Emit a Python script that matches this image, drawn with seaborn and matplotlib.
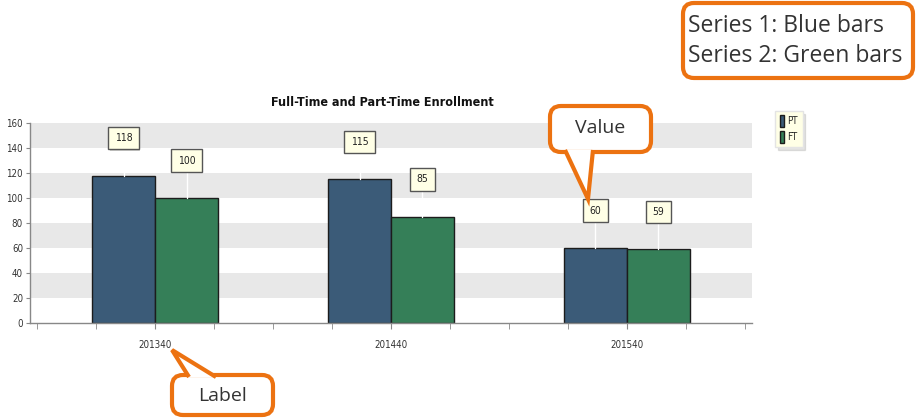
import matplotlib
matplotlib.use('Agg')
import matplotlib.pyplot as plt
import matplotlib.patheffects as pe
import seaborn as sns
import pandas as pd
from matplotlib.patches import FancyBboxPatch, Polygon
from matplotlib.transforms import Affine2D

terms = ['201340', '201440', '201540']
pt_counts = [118, 115, 60]
ft_counts = [100, 85, 59]
series = ['PT', 'FT']
colors = ['#3b5b78', '#357f58']

df = pd.DataFrame({'term': terms * 2,
                   'series': ['PT'] * 3 + ['FT'] * 3,
                   'count': pt_counts + ft_counts})

sns.set_style('white')
plt.rcParams['font.family'] = ['DejaVu Sans']
plt.rcParams['font.stretch'] = 'condensed'
orange = '#ec7211'

fig = plt.figure(figsize=(9.17, 4.18), dpi=100)
ax = fig.add_axes([30 / 917, 95 / 418, 722 / 917, 200 / 418])

# alternating grey bands
for lo in (20, 60, 100, 140):
    ax.axhspan(lo, lo + 20, color='#e8e8e8', lw=0, zorder=0)

sns.barplot(data=df, x='term', y='count', hue='series', hue_order=series,
            palette=colors, width=0.534, edgecolor='#1c1c1c', linewidth=1,
            saturation=1, errorbar=None, ax=ax, zorder=2)

ax.set_xlim(-0.53, 2.53)
ax.set_ylim(0, 160)
ax.set_yticks(range(0, 161, 20))
ax.set_xlabel('')
ax.set_ylabel('')
ax.set_xticks([k / 4 - 0.5 for k in range(13) if (k - 2) % 4], minor=True)
ax.tick_params(axis='x', which='both', bottom=True, direction='out', length=4,
               color='#888888', labelsize=7, labelcolor='#333333', pad=8)
ax.tick_params(axis='y', left=True, length=3, color='#888888',
               labelsize=7, labelcolor='#333333', pad=2)
for s in ('top', 'right'):
    ax.spines[s].set_visible(False)
for s in ('left', 'bottom'):
    ax.spines[s].set_color('#888888')
    ax.spines[s].set_linewidth(1)

# value labels with leader lines
for cont in ax.containers:
    for bar in cont:
        x = bar.get_x() + bar.get_width() / 2
        h = bar.get_height()
        ax.plot([x, x], [h, h + 30], color='white', lw=1, zorder=3)
        t = ax.text(x, h + 30, f'{h:.0f}', ha='center', va='center', fontsize=7.5,
                    color='#222222', zorder=4,
                    bbox=dict(boxstyle='square,pad=0.6', fc='#ffffe6', ec='#555555', lw=1))
        t.get_bbox_patch().set_path_effects([pe.SimplePatchShadow(offset=(1, -1), alpha=0.25),
                                             pe.Normal()])

handles, labels = ax.get_legend_handles_labels()
leg = ax.legend(handles, labels, loc='center', bbox_to_anchor=(789 / 917, 1 - 129 / 418),
                bbox_transform=fig.transFigure, fontsize=7, handlelength=0.4,
                handleheight=1.5, handletextpad=0.4, borderpad=0.45, labelspacing=0.4,
                frameon=True, fancybox=False, shadow={'alpha': 0.15, 'ox': 2, 'oy': -2},
                facecolor='#ffffe6', edgecolor='#e4e4e4', framealpha=1)

fig.text(382 / 917, 1 - 103 / 418, 'Full-Time and Part-Time Enrollment', ha='center',
         va='center', fontsize=9, fontweight='bold', color='#111111')

# orange callouts in pixel coordinates (origin top-left)
pix = Affine2D().scale(1 / 100., -1 / 100.).translate(0, 4.18) + fig.dpi_scale_trans


def callout(x0, y0, x1, y1, tail=None):
    box = FancyBboxPatch((x0, y0), x1 - x0, y1 - y0,
                         boxstyle='round,pad=0,rounding_size=11',
                         fc='white', ec=orange, lw=3, transform=pix, zorder=5)
    fig.add_artist(box)
    if tail:
        fig.add_artist(Polygon(tail, closed=False, fc='white', ec=orange, lw=3,
                               joinstyle='miter', transform=pix, zorder=6))


callout(683, 3, 913, 78)
for y, s in ((26, 'Series 1: Blue bars'), (56, 'Series 2: Green bars')):
    fig.text(688, y, s, transform=pix, fontsize=16.5, family='Open Sans', fontstretch='normal',
             color='#333333', va='center', ha='left', zorder=7)

callout(550, 106, 651, 152, tail=[(565, 150), (588, 199), (593, 150)])
fig.text(600, 128, 'Value', transform=pix, fontsize=14, family='Open Sans', fontstretch='normal',
         color='#333333', va='center', ha='center', zorder=7)

callout(172, 375, 273, 415, tail=[(189, 377), (172, 350), (216, 377)])
fig.text(222, 396, 'Label', transform=pix, fontsize=14, family='Open Sans', fontstretch='normal',
         color='#333333', va='center', ha='center', zorder=7)

fig.savefig('out.png', dpi=100)
